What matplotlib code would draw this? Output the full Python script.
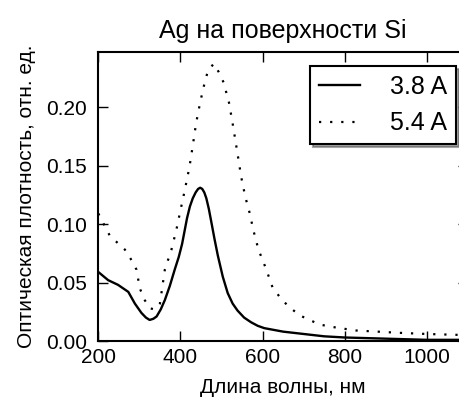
import numpy as np
import matplotlib
matplotlib.use("Agg")
import matplotlib.pyplot as plt

# wavelength, nm and optical density
wl_38 = [200, 224, 248, 273, 289, 305, 316, 325, 334, 342, 352, 362, 374, 386,
         396, 404, 410, 416, 423, 430, 437, 443, 448, 453, 458, 463, 469, 475,
         483, 491, 503, 515, 527, 539, 555, 572, 588, 604, 650, 700, 750, 800,
         900, 1000, 1100]
od_38 = [0.059, 0.052, 0.048, 0.042, 0.032, 0.024, 0.020, 0.018, 0.019, 0.021,
         0.027, 0.035, 0.047, 0.061, 0.072, 0.083, 0.094, 0.105, 0.115, 0.122,
         0.127, 0.130, 0.131, 0.130, 0.127, 0.122, 0.113, 0.102, 0.087, 0.073,
         0.055, 0.041, 0.032, 0.026, 0.020, 0.016, 0.013, 0.011, 0.008, 0.006,
         0.004, 0.003, 0.002, 0.001, 0.001]

wl_54 = [200, 228, 265, 281, 293, 301, 313, 325, 337, 350, 362, 378, 390, 402,
         410, 422, 430, 438, 448, 459, 467, 481, 493, 505, 518, 527, 539, 548,
         558, 568, 578, 590, 608, 624, 645, 665, 690, 714, 740, 770, 826, 880,
         932, 1000, 1100]
od_54 = [0.109, 0.090, 0.078, 0.069, 0.061, 0.045, 0.035, 0.028, 0.027, 0.032,
         0.061, 0.078, 0.095, 0.115, 0.128, 0.149, 0.167, 0.186, 0.204, 0.221,
         0.231, 0.237, 0.230, 0.221, 0.204, 0.186, 0.160, 0.140, 0.123, 0.110,
         0.094, 0.078, 0.062, 0.046, 0.036, 0.029, 0.022, 0.018, 0.014, 0.012,
         0.009, 0.008, 0.007, 0.006, 0.005]

labels = ['3.8 A', '5.4 A']
xticks = [200, 400, 600, 800, 1000]
yticks = [0.00, 0.05, 0.10, 0.15, 0.20]

plt.rcParams['font.family'] = ['Liberation Sans', 'DejaVu Sans']

fig = plt.figure(figsize=(4.6, 3.98), dpi=100)
ax = fig.add_axes([0.2137, 0.1432, 1.0174 - 0.2137, 0.8693 - 0.1432])

ax.plot(wl_38, od_38, color='black', lw=1.7, label=labels[0])
ax.plot(wl_54, od_54, color='black', lw=1.6, linestyle=(0, (1, 4)),
        label=labels[1])

ax.set_xlim(200, 1100)
ax.set_ylim(0, 0.247)
ax.set_xticks(xticks)
ax.set_yticks(yticks)
ax.set_yticklabels(['%.2f' % v for v in yticks])
ax.tick_params(direction='in', length=7.5, width=1, top=True, right=True,
               labelsize=15)
ax.tick_params(axis='x', pad=5)
ax.tick_params(axis='y', pad=8)
for s in ax.spines.values():
    s.set_linewidth(1.5)

ax.set_title('Ag на поверхности Si', fontsize=18, pad=10)
ax.set_xlabel('Длина волны, нм', fontsize=15, labelpad=8)
ax.set_ylabel('Оптическая плотность, отн. ед.', fontsize=15, labelpad=7)

leg = ax.legend(loc='upper right', bbox_to_anchor=(0.9675, 0.9516),
                borderaxespad=0, shadow=True, fancybox=False, framealpha=1,
                edgecolor='black', handlelength=1.65, handletextpad=1.2,
                borderpad=0.35, labelspacing=0.5, fontsize=18)
leg.get_frame().set_linewidth(1.5)

fig.savefig('out.png', dpi=100)
